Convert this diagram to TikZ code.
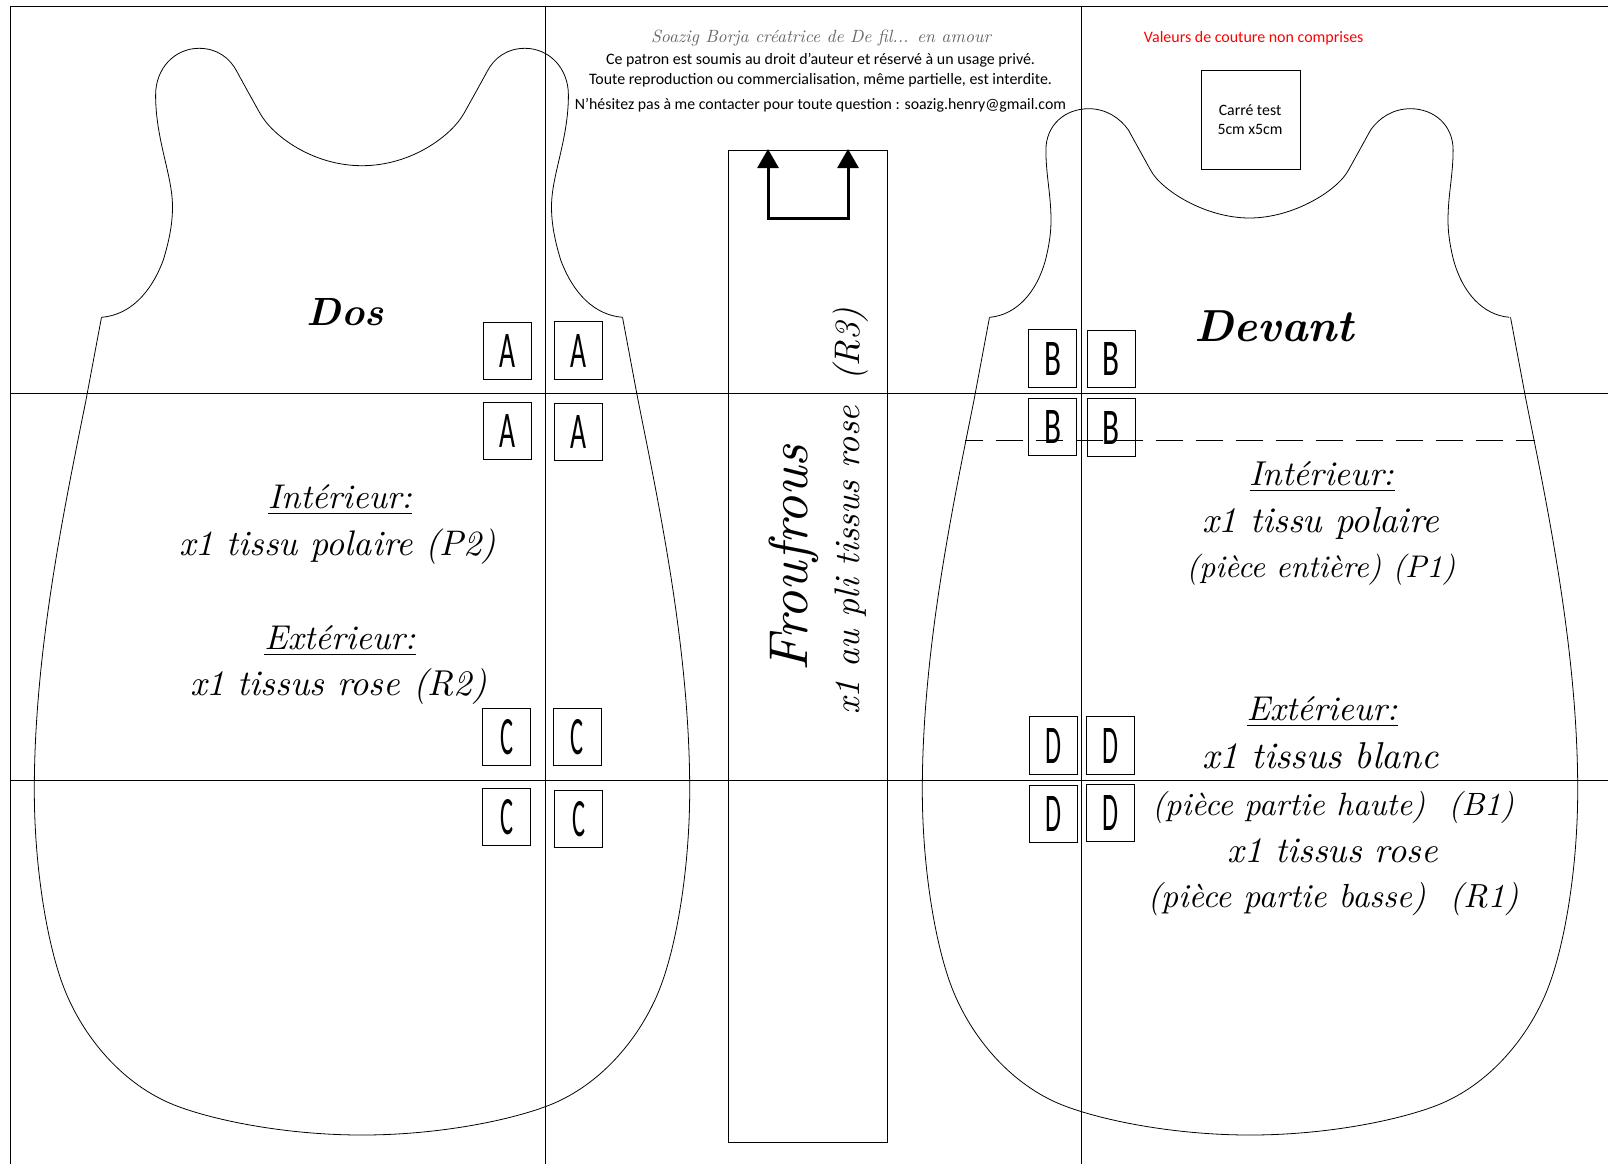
\documentclass[tikz,border=0pt]{standalone}
\usepackage{fontspec}
\usepackage{graphicx}
\usetikzlibrary{arrows.meta}
\newfontfamily\carl{Carlito}
\newlength\pxl
\setlength\pxl{0.02cm}
\newcommand\fitw[2]{\resizebox{#1\pxl}{!}{#2}}
\newcommand\letr[3]{\resizebox{#1\pxl}{#2\pxl}{\carl #3}}
\newcommand\lowerhalf{(101.5,317.3) -- (86,400) .. controls (65,505) and (34.3,650) .. (34.3,790)
  .. controls (34.3,870) and (48,950) .. (66,993)
  .. controls (84,1036) and (118,1078) .. (163,1100)
  .. controls (195,1116) and (275,1135) .. (362,1135)}
\newcommand\doshalf{(101.5,317.3) .. controls (130,315) and (151,293) .. (163.3,260)
  .. controls (170,238) and (172.5,222) .. (172.5,206.7)
  .. controls (172.5,175) and (155.6,140) .. (155.6,95)
  .. controls (155.6,68) and (175,48.3) .. (199,48.3)
  .. controls (217,48.3) and (230,58) .. (237,71.7)
  .. controls (244,84.6) and (252,99) .. (260,113.3)
  .. controls (272,135) and (312,165.7) .. (362,165.7)}
\newcommand\devhalf{(989.7,317.3) .. controls (1016,315) and (1037,293) .. (1046,258)
  .. controls (1049.5,243) and (1051,232) .. (1051,220)
  .. controls (1051,195) and (1045.9,175) .. (1045.9,150)
  .. controls (1045.9,125) and (1065,108.7) .. (1088.7,108.7)
  .. controls (1106,108.7) and (1120,118) .. (1128.4,130)
  .. controls (1135,142) and (1143,156.5) .. (1150.5,170)
  .. controls (1161,190) and (1205,218) .. (1249.5,218)}
\tikzset{
  gridline/.style={black,line width=0.55pt},
  outline/.style={black,line width=0.45pt},
  txt/.style={inner sep=0pt,outer sep=0pt,anchor=center,text=black},
  hand/.style={txt,font=\itshape},
  handb/.style={txt,font=\itshape\bfseries},
  body/.style={txt,font=\carl},
  pbox/.style={draw=black,line width=0.55pt,inner sep=0pt,minimum width=48\pxl,minimum height=57.5\pxl,fill=none},
  foldtip/.tip={Triangle[width=0.42cm,length=0.38cm]},
}
\begin{document}
\begin{tikzpicture}[x=0.02cm,y=-0.02cm]
\useasboundingbox (0,0) rectangle (1608,1164);
% sheet grid
\draw[gridline] (10,1164) -- (10,6) -- (1608,6);
\draw[gridline] (10,393) -- (1608,393);
\draw[gridline] (10,780) -- (1608,780);
\draw[gridline] (545.5,6) -- (545.5,1164);
\draw[gridline] (1081,6) -- (1081,1164);
% Dos outline
\draw[outline] \doshalf;
\begin{scope}[shift={(724,0)},xscale=-1]
\draw[outline] \doshalf;
\end{scope}
\draw[outline] \lowerhalf;
\begin{scope}[shift={(724,0)},xscale=-1]
\draw[outline] \lowerhalf;
\end{scope}
% Devant outline
\draw[outline] \devhalf;
\begin{scope}[shift={(2499,0)},xscale=-1]
\draw[outline] \devhalf;
\end{scope}
\begin{scope}[shift={(888,0)}]
\draw[outline] \lowerhalf;
\end{scope}
\begin{scope}[shift={(1612,0)},xscale=-1]
\draw[outline] \lowerhalf;
\end{scope}
% dashed fold line
\coordinate (dl) at (965,440.7);
\coordinate (dr) at (1534.5,440.7);
\draw[outline,dash pattern=on 27\pxl off 13\pxl,dash phase=9.3\pxl] (dl) -- (dr);
% marker boxes
\node[pbox] (a1) at (507,351) {\letr{16}{33}{A}};
\node[pbox] (a2) at (578,350.5) {\letr{16}{33}{A}};
\node[pbox] (a3) at (507,431) {\letr{16}{33}{A}};
\node[pbox] (a4) at (578.5,432) {\letr{16}{33}{A}};
\node[pbox] (c1) at (506.5,737) {\letr{13}{35}{C}};
\node[pbox] (c2) at (577,737) {\letr{13}{35}{C}};
\node[pbox] (c3) at (506.5,817) {\letr{13}{35}{C}};
\node[pbox] (c4) at (578.5,819) {\letr{13}{35}{C}};
\node[pbox] (b1) at (1052.5,358.5) {\letr{17}{33}{B}};
\node[pbox] (b2) at (1111,359) {\letr{17}{33}{B}};
\node[pbox] (b3) at (1052.5,427) {\letr{17}{33}{B}};
\node[pbox] (b4) at (1111,427.5) {\letr{17}{33}{B}};
\node[pbox] (d1) at (1053,745.5) {\letr{16}{35}{D}};
\node[pbox] (d2) at (1110.5,745.5) {\letr{16}{35}{D}};
\node[pbox] (d3) at (1053,814) {\letr{16}{35}{D}};
\node[pbox] (d4) at (1110.5,813) {\letr{16}{35}{D}};
% test square
\node[draw=black,line width=0.55pt,inner sep=0pt,minimum width=99\pxl,minimum height=99\pxl] (sq) at (1250.5,119.5) {};
% strip
\node[draw=black,line width=0.55pt,inner sep=0pt,minimum width=159\pxl,minimum height=992.4\pxl] (strip) at (808,646.5) {};
% fold arrow
\coordinate (ftl) at (768,149);
\coordinate (fbl) at (768,218);
\coordinate (fbr) at (848,218);
\coordinate (ftr) at (848,149);
\draw[line width=1.7pt,line join=miter,foldtip-foldtip] (ftl) -- (fbl) -- (fbr) -- (ftr);
% header
\node[hand,text=black!60] (t0) at (821,38) {\fitw{340}{Soazig Borja créatrice de De fil... en amour}};
\node[body] (t1) at (820.5,60.5) {\fitw{429}{Ce patron est soumis au droit d’auteur et réservé à un usage privé.}};
\node[body] (t2) at (820.5,80.5) {\fitw{463}{Toute reproduction ou commercialisation, même partielle, est interdite.}};
\node[body] (t3) at (820.5,105) {\fitw{491}{N’hésitez pas à me contacter pour toute question : soazig.henry@gmail.com}};
\node[body,text=red] (t4) at (1253.7,38) {\fitw{219.5}{Valeurs de couture non comprises}};
\node[body] (t5) at (1250,110) {\fitw{62.5}{Carré test}};
\node[body] (t6) at (1250,129) {\fitw{65}{5cm x5cm}};
% titles
\node[handb] (dos) at (345,312) {\fitw{77}{Dos}};
\node[handb] (dev) at (1274,326) {\fitw{160}{Devant}};
% back texts
\node[hand] (b1t) at (340,500) {\fitw{144}{\underline{Intérieur:}}};
\node[hand] (b2t) at (338,546.5) {\fitw{317}{x1 tissu polaire (P2)}};
\node[hand] (b3t) at (340,641) {\fitw{151}{\underline{Extérieur:}}};
\node[hand] (b4t) at (338.5,686) {\fitw{297}{x1 tissus rose (R2)}};
% front texts
\node[hand] (f1t) at (1322,477) {\fitw{145}{\underline{Intérieur:}}};
\node[hand] (f2t) at (1320.5,523) {\fitw{237}{x1 tissu polaire}};
\node[hand] (f3t) at (1321,570) {\fitw{269}{(pièce entière) (P1)}};
\node[hand] (f4t) at (1322,712) {\fitw{151}{\underline{Extérieur:}}};
\node[hand] (f5t) at (1320.5,756) {\fitw{237}{x1 tissus blanc}};
\node[hand] (f6t) at (1333,807) {\fitw{362}{(pièce partie haute)\ \ (B1)}};
\node[hand] (f7t) at (1332.7,851) {\fitw{210}{x1 tissus rose}};
\node[hand] (f8t) at (1333,899) {\fitw{371}{(pièce partie basse)\ \ (R1)}};
% strip texts
\node[txt,font=\itshape,rotate=90] (ff) at (794,558) {\fitw{226}{Froufrous}};
\node[hand,rotate=90] (fx) at (851,511) {\fitw{407}{x1 au pli tissus rose\ \ (R3)}};
\end{tikzpicture}
\end{document}
